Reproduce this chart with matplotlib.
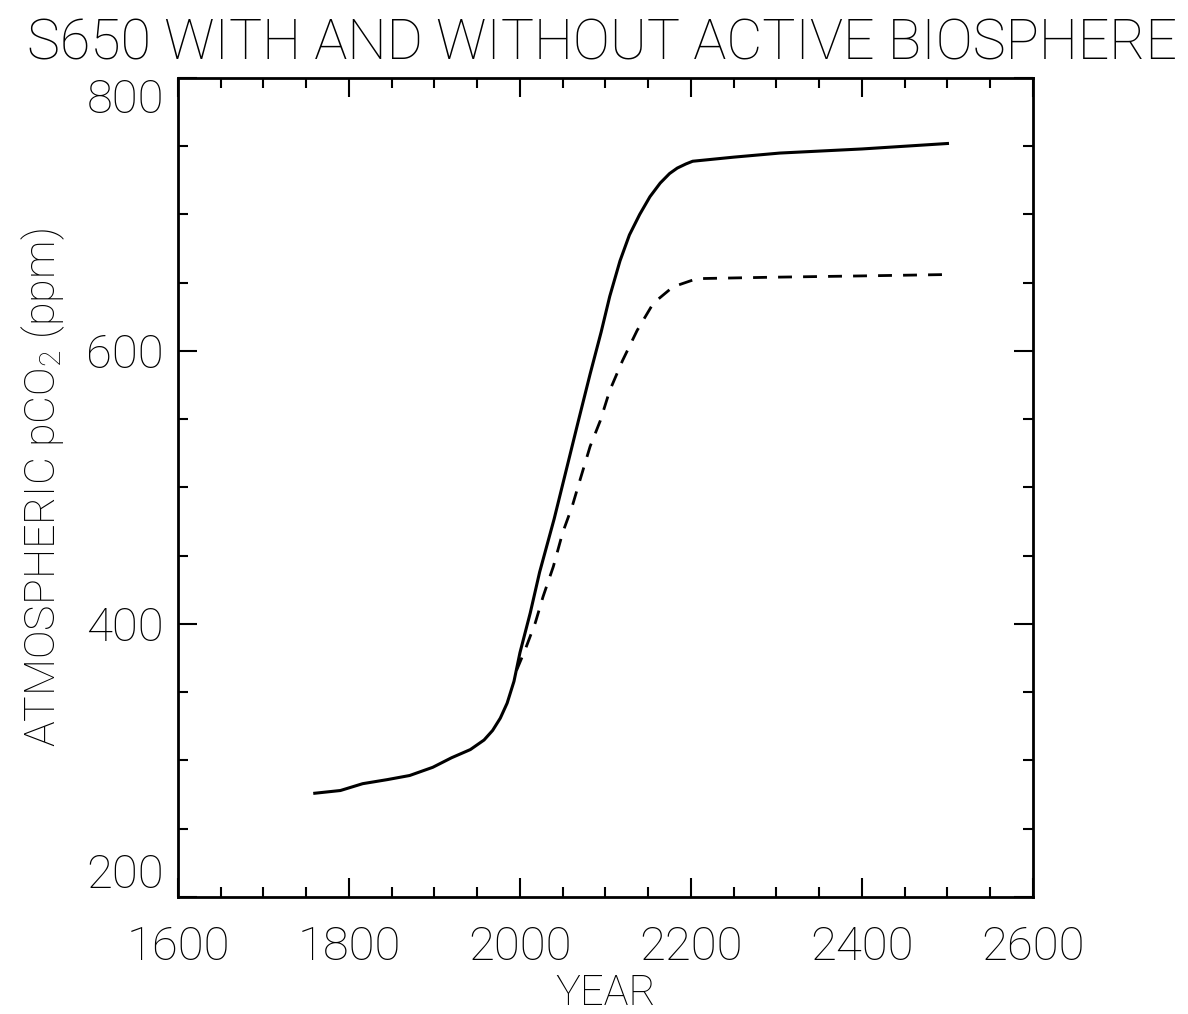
import matplotlib
matplotlib.use("Agg")
import matplotlib.pyplot as plt
from matplotlib.ticker import MultipleLocator

# values
years_active = [1760, 1790, 1816, 1845, 1871, 1898, 1920, 1942, 1958, 1968, 1977,
                1985, 1993, 2000, 2012, 2023, 2040, 2055, 2068, 2082, 2095, 2105,
                2117, 2128, 2140, 2152, 2164, 2175, 2184, 2194, 2202, 2250, 2304,
                2400, 2500]
co2_active = [276, 278, 283, 286, 289, 295, 302, 308, 315, 322, 331,
              342, 358, 379, 408, 438, 477, 515, 548, 583, 614, 640,
              666, 685, 700, 713, 723, 730, 734, 737, 739, 742, 745,
              748, 752]

years_passive = [1996, 2006, 2018, 2027, 2039, 2050, 2061, 2070, 2082, 2094, 2105,
                 2120, 2137, 2156, 2179, 2207, 2292, 2400, 2499]
co2_passive = [366, 381, 401, 420, 442, 467, 486, 505, 530, 549, 571,
               593, 615, 635, 647, 653, 654, 655, 656]

plt.rcParams['font.family'] = ['Roboto', 'DejaVu Sans']
plt.rcParams['font.weight'] = 'light'
plt.rcParams['axes.labelweight'] = 'light'
plt.rcParams['mathtext.fontset'] = 'custom'
plt.rcParams['mathtext.rm'] = 'Roboto:light'

fig = plt.figure(figsize=(11.88, 10.14), dpi=100)
ax = fig.add_axes([0.1498, 0.1154, 0.7197, 0.8077])

ax.plot(years_active, co2_active, color='black', lw=2.2)
ax.plot(years_passive, co2_passive, color='black', lw=2.0, ls=(0, (5, 4)))

ax.set_xlim(1600, 2600)
ax.set_ylim(200, 800)
ax.xaxis.set_major_locator(MultipleLocator(200))
ax.xaxis.set_minor_locator(MultipleLocator(50))
ax.yaxis.set_major_locator(MultipleLocator(200))
ax.yaxis.set_minor_locator(MultipleLocator(50))
ax.tick_params(which='both', direction='in', top=True, right=True, width=1.5)
ax.tick_params(which='major', length=14, labelsize=34)
ax.tick_params(axis='x', which='major', pad=20)
ax.tick_params(axis='y', which='major', pad=10)
ax.tick_params(which='minor', length=7)
for s in ax.spines.values():
    s.set_linewidth(2)

# end labels sit inside the axis range, like the original
fig.canvas.draw()
for tick in ax.yaxis.get_major_ticks():
    if tick.get_loc() == 200:
        tick.label1.set_va('bottom')
    elif tick.get_loc() == 800:
        tick.label1.set_va('top')

ax.set_xlabel('YEAR', fontsize=30, fontweight='light', labelpad=3)
ax.set_ylabel(r'ATMOSPHERIC pCO$_\mathrm{2}$ (ppm)', fontsize=31,
              fontweight='light', labelpad=14)
fig.text(0.507, 0.957, 'S650 WITH AND WITHOUT ACTIVE BIOSPHERE', fontsize=40,
         fontweight='light', ha='center', va='center')

fig.savefig('out.png', dpi=100)
